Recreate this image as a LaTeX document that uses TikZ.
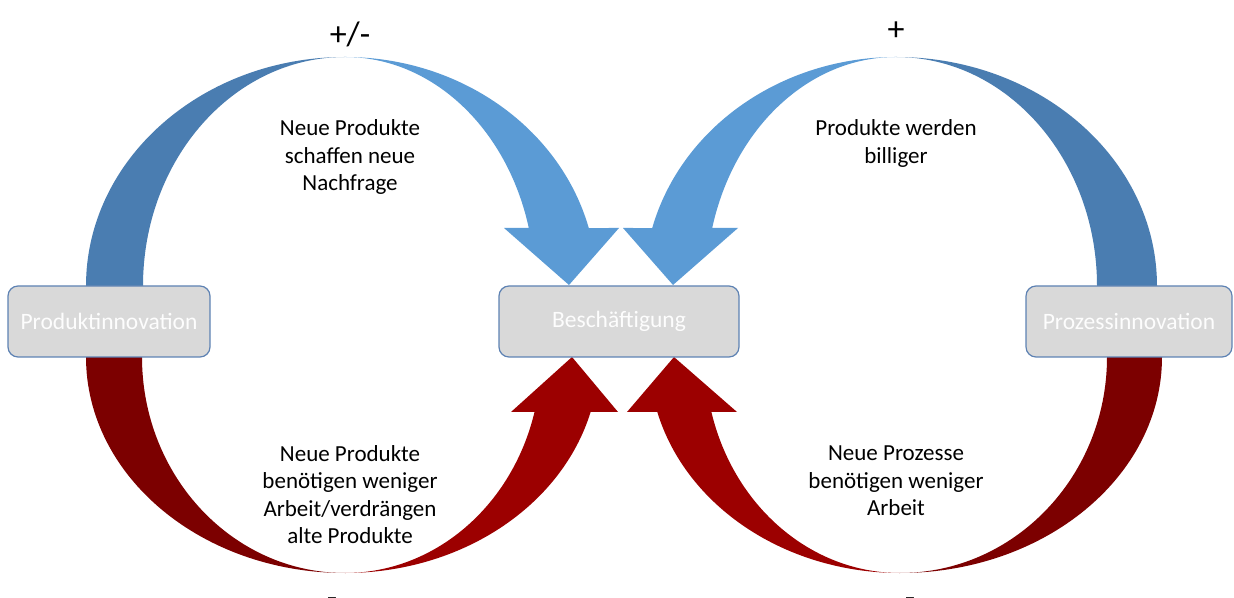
\documentclass[tikz,border=0pt]{standalone}
\usepackage{fontspec}
\setmainfont{Carlito}
\definecolor{bluedark}{HTML}{4A7DB1}
\definecolor{bluelight}{HTML}{5B9BD5}
\definecolor{reddark}{HTML}{7C0000}
\definecolor{redlight}{HTML}{9C0000}
\definecolor{boxfill}{HTML}{D9D9D9}
\definecolor{boxedge}{HTML}{5E82B3}
\begin{document}
\begin{tikzpicture}[x=1pt, y=1pt, node distance={510pt},
		box/.style = {draw=boxedge, line width=1.2pt, fill=boxfill, rounded corners=10pt, minimum height=71pt, text=white!95!boxfill, font=\fontsize{23.5}{27.5}\selectfont},
		txt/.style = {align=center, font=\fontsize{23}{27.5}\selectfont},
		sign/.style = {font=\fontsize{34}{40}\selectfont}]
			\useasboundingbox (0,0) rectangle (1234,597);
			\fill[bluedark] (86,311) arc[start angle=180, end angle=90, x radius=259pt, y radius=229pt] arc[start angle=90, end angle=180, x radius=202pt, y radius=229pt] -- cycle;
			\fill[bluelight] (345,540) arc[start angle=90, end angle=14.67, x radius=252pt, y radius=229pt] -- (619,369) -- (569,312) -- (504,369) -- (528.8,369) arc[start angle=14.67, end angle=90, x radius=190pt, y radius=229pt] -- cycle;
			\fill[bluedark] (1157,311) arc[start angle=0, end angle=90, x radius=261pt, y radius=229pt] arc[start angle=90, end angle=0, x radius=201pt, y radius=229pt] -- cycle;
			\fill[bluelight] (896,540) arc[start angle=90, end angle=165.33, x radius=252pt, y radius=229pt] -- (623,369) -- (673,312) -- (738,369) -- (712.2,369) arc[start angle=165.33, end angle=90, x radius=190pt, y radius=229pt] -- cycle;
			\fill[reddark] (86,240) arc[start angle=180, end angle=270, x radius=259pt, y radius=216pt] arc[start angle=270, end angle=180, x radius=203pt, y radius=216pt] -- cycle;
			\fill[redlight] (345,24) arc[start angle=270, end angle=345.25, x radius=254pt, y radius=216pt] -- (618,185) -- (572,240) -- (511,185) -- (534.5,185) arc[start angle=345.25, end angle=270, x radius=196pt, y radius=216pt] -- cycle;
			\fill[reddark] (1162,240) arc[start angle=0, end angle=-90, x radius=262pt, y radius=216pt] arc[start angle=-90, end angle=0, x radius=207pt, y radius=216pt] -- cycle;
			\fill[redlight] (900,24) arc[start angle=270, end angle=194.75, x radius=251pt, y radius=216pt] -- (627,185) -- (674,240) -- (737,185) -- (711.4,185) arc[start angle=194.75, end angle=270, x radius=195pt, y radius=216pt] -- cycle;
			\node[box, minimum width=202pt] (prod) at (109,275.5) {Produktinnovation};
			\node[box, minimum width=240pt] (besch) [right of=prod] {Beschäftigung};
			\node[box, minimum width=206pt] (proz) [right of=besch] {Prozessinnovation};
			\node[sign] (pm) at (350,563) {+/-};
			\node[sign] (plus) at (896,566) {+};
			\node[sign, anchor=north, inner sep=0pt] (minl) at (332,0) {-};
			\node[sign, anchor=north, inner sep=0pt] (minr) at (910,0) {-};
			\node[txt] (nachfrage) at (350,440) {Neue Produkte\\schaffen neue\\Nachfrage};
			\node[txt] (billiger) at (896,453.5) {Produkte werden\\billiger};
			\node[txt] (verdraengen) at (350,102.5) {Neue Produkte\\benötigen weniger\\Arbeit/verdrängen\\alte Produkte};
			\node[txt] (arbeit) at (896,116) {Neue Prozesse\\benötigen weniger\\Arbeit};
		\end{tikzpicture}
\end{document}
